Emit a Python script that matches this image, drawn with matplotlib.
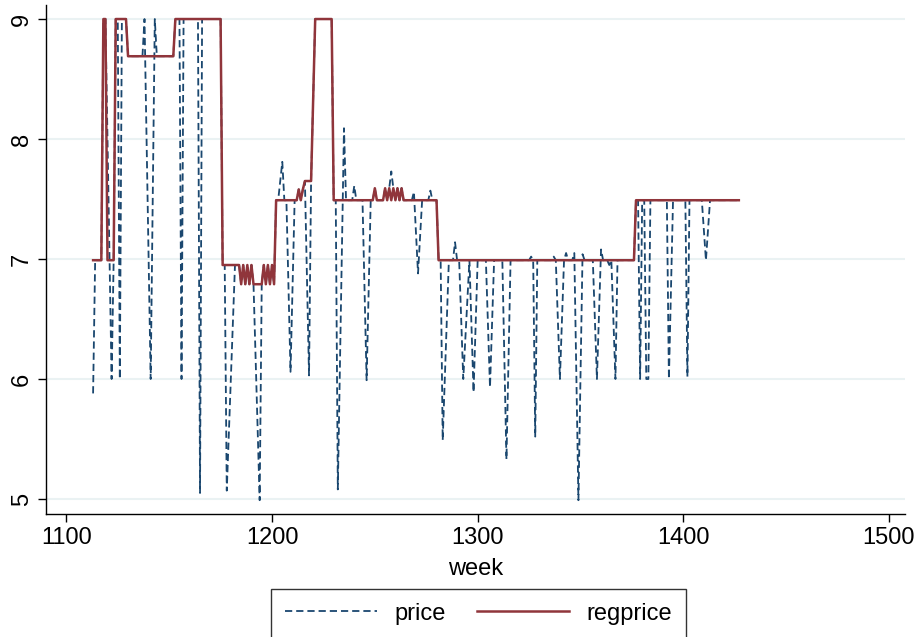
import numpy as np
import matplotlib.pyplot as plt

plt.rcParams['font.family'] = ['Liberation Sans', 'DejaVu Sans']

# regular price, stored as runs of a constant level (first week, last week, level)
reg_first = [1113, 1118, 1120, 1124, 1130, 1153, 1176, 1185, 1186, 1187, 1188, 1189, 1190,
             1191, 1196, 1197, 1198, 1199, 1200, 1201, 1202, 1213, 1214, 1215, 1216, 1221,
             1230, 1250, 1251, 1255, 1256, 1257, 1258, 1259, 1260, 1261, 1262, 1263, 1264,
             1281, 1377]
reg_last = [1117, 1119, 1123, 1129, 1152, 1175, 1184, 1185, 1186, 1187, 1188, 1189, 1190,
            1195, 1196, 1197, 1198, 1199, 1200, 1201, 1212, 1213, 1214, 1215, 1219, 1229,
            1249, 1250, 1254, 1255, 1256, 1257, 1258, 1259, 1260, 1261, 1262, 1263, 1280,
            1376, 1427]
reg_level = [6.99, 9.0, 6.99, 9.0, 8.69, 9.0, 6.95, 6.79, 6.95, 6.79, 6.95, 6.79, 6.95,
             6.79, 6.95, 6.79, 6.95, 6.79, 6.95, 6.79, 7.49, 7.58, 7.49, 7.58, 7.65, 9.0,
             7.49, 7.59, 7.49, 7.59, 7.49, 7.59, 7.49, 7.59, 7.49, 7.59, 7.49, 7.59, 7.49,
             6.99, 7.49]

# weeks where the shelf price differs from the regular price
sale_week = [1113, 1122, 1126, 1138, 1141, 1143, 1156, 1165, 1178, 1194, 1205, 1209, 1218,
             1232, 1235, 1240, 1246, 1258, 1269, 1271, 1277, 1283, 1289, 1293, 1298, 1306,
             1314, 1326, 1328, 1337, 1340, 1343, 1347, 1349, 1351, 1358, 1360, 1364, 1367,
             1379, 1382, 1383, 1393, 1402, 1411]
sale_price = [5.88, 6.0, 6.0, 9.0, 6.0, 9.0, 6.0, 5.05, 5.07, 4.99, 7.81, 6.06, 6.03,
              5.08, 8.09, 7.61, 5.99, 7.73, 7.56, 6.88, 7.57, 5.49, 7.14, 6.0, 5.89, 5.93,
              5.33, 7.02, 5.52, 7.02, 6.0, 7.05, 7.05, 4.99, 7.04, 6.0, 7.08, 6.95, 6.0,
              6.0, 6.0, 6.0, 6.0, 6.02, 6.99]

# weeks with no price observed (the line is joined across them)
price_missing = [1120, 1121, 1139, 1140, 1142, 1179, 1180, 1181, 1192, 1193, 1204, 1208,
                 1210, 1217, 1233, 1234, 1245, 1247, 1270, 1272, 1284, 1285, 1292, 1294,
                 1295, 1297, 1299, 1305, 1307, 1313, 1315, 1339, 1341, 1348, 1350, 1357,
                 1359, 1366, 1394, 1410, 1412]

weeks = np.arange(1113, 1428)
regprice = np.full(len(weeks), np.nan)
for a, b, v in zip(reg_first, reg_last, reg_level):
    regprice[(weeks >= a) & (weeks <= b)] = v
price = regprice.copy()
for w, v in zip(sale_week, sale_price):
    price[weeks == w] = v
price[np.isin(weeks, price_missing)] = np.nan

navy = '#1a476f'
maroon = '#90353b'

fig = plt.figure(figsize=(9.2, 6.37), dpi=100)
ax = fig.add_axes([46 / 920, 1 - 514 / 637, 859 / 920, 509 / 637])

ok = ~np.isnan(price)
ax.plot(weeks[ok], price[ok], color=navy, lw=1.3, linestyle=(0, (4.0, 2.2)), label='price')
ok = ~np.isnan(regprice)
ax.plot(weeks[ok], regprice[ok], color=maroon, lw=1.8, label='regprice')

ax.set_xlim(1090.1, 1507.8)
ax.set_ylim(4.875, 9.117)
ax.set_xticks([1100, 1200, 1300, 1400, 1500])
ax.set_yticks([5, 6, 7, 8, 9])
ax.grid(axis='y', color='#eaf2f3', lw=1.5)
ax.set_axisbelow(True)
for s in ['top', 'right']:
    ax.spines[s].set_visible(False)
for s in ['left', 'bottom']:
    ax.spines[s].set_linewidth(1.0)
ax.tick_params(direction='out', length=6, width=1.0, labelsize=17)
for lab in ax.get_yticklabels():
    lab.set_rotation(90)
    lab.set_va('center')
ax.set_xlabel('week', fontsize=17, labelpad=6)

leg = fig.legend(loc='lower center', bbox_to_anchor=(0.52, -0.003), ncol=2, fontsize=17,
                 frameon=True, fancybox=False, edgecolor='black', handlelength=3.9,
                 handletextpad=0.75, columnspacing=1.3, borderpad=0.6, borderaxespad=0.0)
leg.get_frame().set_linewidth(1.0)

fig.savefig('out.png', dpi=100)
